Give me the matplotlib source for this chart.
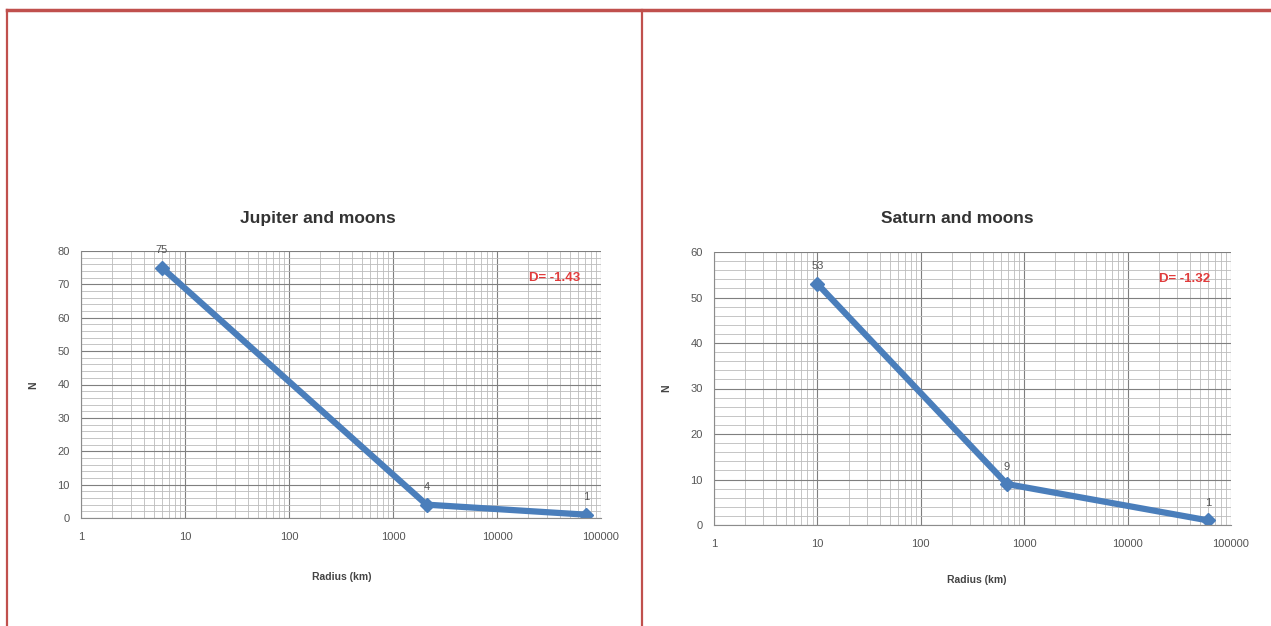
import numpy as np
import matplotlib.pyplot as plt
from matplotlib.ticker import LogLocator, FixedLocator, MultipleLocator, NullFormatter
from matplotlib.lines import Line2D

# Jupiter and moons
jup_radius = [6, 2100, 71492]
jup_count = [75, 4, 1]
jup_d = "D= -1.43"

# Saturn and moons
sat_radius = [10, 680, 60268]
sat_count = [53, 9, 1]
sat_d = "D= -1.32"

x_ticks = [1, 10, 100, 1000, 10000, 100000]
x_tick_labels = ["1", "10", "100", "1000", "10000", "100000"]

W, H = 1271, 626
fig = plt.figure(figsize=(W / 100, H / 100), dpi=100)
fig.patch.set_facecolor("white")
plt.rcParams['font.family'] = ['Liberation Sans', 'DejaVu Sans']

border = "#c0504d"
blue = "#4a7ebb"


def px_axes(x0, x1, y0, y1):
    # pixel box -> figure fraction
    return fig.add_axes([x0 / W, 1 - y1 / H, (x1 - x0) / W, (y1 - y0) / H])


def draw_chart(ax, radius, count, ymax, dtext):
    ax.set_xscale("log")
    ax.set_xlim(1, 100000)
    ax.set_ylim(0, ymax)
    ax.xaxis.set_major_locator(FixedLocator(x_ticks))
    ax.set_xticklabels(x_tick_labels)
    ax.xaxis.set_minor_locator(LogLocator(base=10, subs=np.arange(2, 10)))
    ax.xaxis.set_minor_formatter(NullFormatter())
    ax.yaxis.set_major_locator(MultipleLocator(10))
    ax.yaxis.set_minor_locator(MultipleLocator(2))
    ax.grid(which="major", color="#7f7f7f", lw=0.8)
    ax.grid(which="minor", color="#bcbcbc", lw=0.6)
    ax.set_axisbelow(True)
    for s in ["top", "right"]:
        ax.spines[s].set_visible(False)
    for s in ["left", "bottom"]:
        ax.spines[s].set_color("#8c8c8c")
        ax.spines[s].set_linewidth(0.8)
    ax.tick_params(which="both", length=0, labelsize=8, colors="#555555", pad=8)
    ax.tick_params(axis="x", pad=10)
    ax.plot(radius, count, color=blue, lw=4.5, marker="D", ms=7,
            markerfacecolor=blue, markeredgecolor=blue, solid_capstyle="round")
    for r, c in zip(radius, count):
        ax.annotate(str(c), (r, c), xytext=(0, 9), textcoords="offset points",
                    ha="center", va="bottom", fontsize=8, color="#555555")
    ax.text(0.96, 0.9, dtext, transform=ax.transAxes, ha="right", va="center",
            fontsize=9.5, fontweight="bold", color="#e03c3c")


ax1 = px_axes(81, 601, 251, 518)
draw_chart(ax1, jup_radius, jup_count, 80, jup_d)
ax2 = px_axes(714, 1231, 252, 525)
draw_chart(ax2, sat_radius, sat_count, 60, sat_d)

fig.text(318 / W, 1 - 219 / H, "Jupiter and moons", ha="center", va="center",
         fontsize=12.5, fontweight="bold", color="#333333")
fig.text(957 / W, 1 - 219 / H, "Saturn and moons", ha="center", va="center",
         fontsize=12.5, fontweight="bold", color="#333333")
fig.text(342 / W, 1 - 577 / H, "Radius (km)", ha="center", va="center",
         fontsize=7.5, fontweight="bold", color="#444444")
fig.text(977 / W, 1 - 580 / H, "Radius (km)", ha="center", va="center",
         fontsize=7.5, fontweight="bold", color="#444444")
fig.text(33 / W, 1 - 385 / H, "N", ha="center", va="center", rotation=90,
         fontsize=7.5, fontweight="bold", color="#444444")
fig.text(666 / W, 1 - 388 / H, "N", ha="center", va="center", rotation=90,
         fontsize=7.5, fontweight="bold", color="#444444")

# table borders round the two charts
fig.add_artist(Line2D([7 / W, 1], [1 - 10 / H, 1 - 10 / H], color=border, lw=2.5))
fig.add_artist(Line2D([7 / W, 7 / W], [0, 1 - 10 / H], color=border, lw=1.6))
fig.add_artist(Line2D([642 / W, 642 / W], [0, 1 - 10 / H], color=border, lw=1.6))

fig.savefig("out.png", dpi=100, facecolor="white")
